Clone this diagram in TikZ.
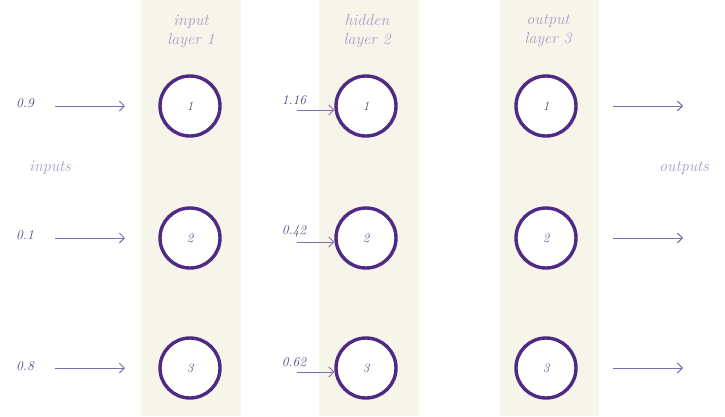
\documentclass[tikz,border=0pt]{standalone}
\usetikzlibrary{arrows.meta}
\definecolor{beige}{HTML}{F7F5EA}
\definecolor{ring}{HTML}{4E2A84}
\definecolor{lbl}{HTML}{A99CC9}
\definecolor{num}{HTML}{5B4390}
\definecolor{arr}{HTML}{7E6EAE}
\begin{document}
\begin{tikzpicture}[x=1pt,y=-1pt,
  layerbg/.style={fill=beige,draw=none},
  neuron/.style={circle,draw=ring,line width=3.4pt,minimum size=60pt,inner sep=0pt,fill=white,font=\fontsize{13}{15}\selectfont\itshape,text=num},
  lab/.style={font=\fontsize{16}{19}\selectfont\itshape,text=lbl,align=center,inner sep=0pt},
  val/.style={font=\fontsize{13.5}{15}\selectfont\itshape,text=num,inner sep=0pt},
  sig/.style={draw=arr,line width=0.9pt,-{Straight Barb[length=5pt,width=10pt]}}]
\useasboundingbox (0,0) rectangle (725,416);
\fill[white] (0,0) rectangle (725,416);
\fill[layerbg] (141,0) rectangle (241,416);
\fill[layerbg] (319,0) rectangle (419,416);
\fill[layerbg] (500,0) rectangle (599,416);
\node[lab] (t1) at (191,31) {input\\layer 1};
\node[lab] (t2) at (367,31) {hidden\\layer 2};
\node[lab] (t3) at (548,31) {output\\layer 3};
\node[lab] (ins) at (50,168) {inputs};
\node[lab] (outs) at (684,168) {outputs};
\foreach \r/\y in {1/106,2/238,3/368}{
  \node[neuron] (a\r) at (190,\y) {\r};
  \node[neuron] (b\r) at (366,\y) {\r};
  \node[neuron] (c\r) at (546,\y) {\r};
  \coordinate (s\r) at (55,\y);
  \coordinate (e\r) at (125,\y);
  \coordinate (h\r) at (297,\y+4);
  \coordinate (o\r) at (613,\y);
  \coordinate (p\r) at (683,\y);
  \draw[sig] (s\r) -- (e\r);
  \draw[sig] (h\r) -- (b\r.west |- h\r);
  \draw[sig] (o\r) -- (p\r);
}
\node[val] (v1) at (25,103) {0.9};
\node[val] (v2) at (25,235) {0.1};
\node[val] (v3) at (25,366) {0.8};
\node[val] (w1) at (294,100) {1.16};
\node[val] (w2) at (294,231) {0.42};
\node[val] (w3) at (294,362) {0.62};
\end{tikzpicture}
\end{document}
